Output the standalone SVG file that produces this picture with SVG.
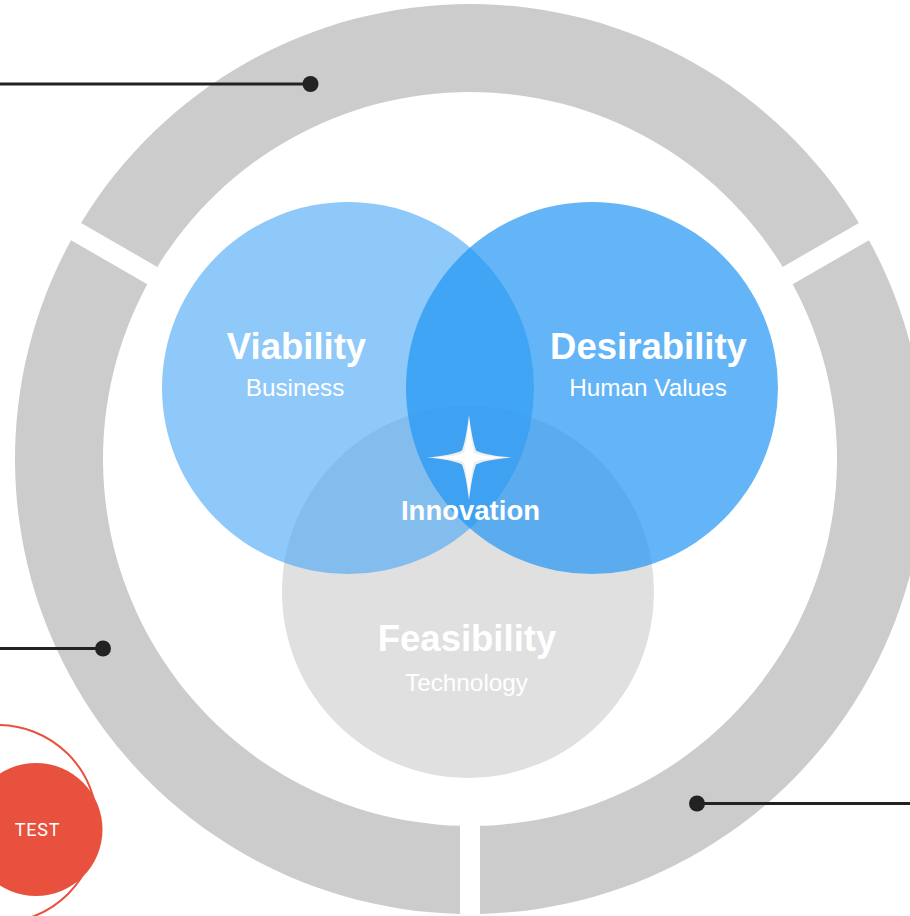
<svg xmlns="http://www.w3.org/2000/svg" width="910" height="916" viewBox="0 0 910 916">
<style>
.seg{fill:#CCCCCC}
.title{font-family:"Liberation Sans",Arial,sans-serif;font-weight:bold;font-size:36.5px;fill:#FFFFFF;text-anchor:middle}
.sub{font-family:"Liberation Sans",Arial,sans-serif;font-size:24.3px;fill:#FFFFFF;text-anchor:middle}
.conn{stroke:#222222;stroke-width:3;fill:none}
.dot{fill:#222222}
</style>
<rect width="910" height="916" fill="#FFFFFF"/>
<g id="ring">
<path class="seg" d="M81.06,222.89 A455,455 0 0 1 858.94,222.89 L782.71,266.91 A367,367 0 0 0 157.29,266.91 Z"/>
<path class="seg" d="M868.94,240.21 A455,455 0 0 1 480,913.89 L480,825.86 A367,367 0 0 0 792.71,284.23 Z"/>
<path class="seg" d="M460,913.89 A455,455 0 0 1 71.06,240.21 L147.29,284.23 A367,367 0 0 0 460,825.86 Z"/>
</g>
<g id="feasibility">
<circle cx="468" cy="592" r="186" fill="#E0E0E0"/>
</g>
<g id="viability">
<circle cx="348" cy="388" r="186" fill="#42A5F5" fill-opacity="0.6"/>
</g>
<g id="desirability">
<circle cx="592" cy="388" r="186" fill="#2196F3" fill-opacity="0.7"/>
</g>
<g id="labels">
<text class="title" x="296.5" y="359">Viability</text>
<text class="sub" x="295" y="395.5">Business</text>
<text class="title" x="648.5" y="359">Desirability</text>
<text class="sub" x="648" y="395.5">Human Values</text>
<text class="title" x="467" y="651">Feasibility</text>
<text class="sub" x="466.5" y="690.5">Technology</text>
</g>
<g id="innovation">
<path d="M469,415 Q472,440 476,450.5 Q486,455.5 512,457.5 Q486,459.5 476,464.5 Q472,475 469,500 Q466,475 462,464.5 Q452,459.5 427,457.5 Q452,455.5 462,450.5 Q466,440 469,415 Z" fill="#EEEEEE"/>
<path d="M469,421 Q471.5,443 474,453 Q483,456.5 506,457.5 Q483,458.5 474,462 Q471.5,472 469,494 Q466.5,472 464,462 Q455,458.5 433,457.5 Q455,456.5 464,453 Q466.5,443 469,421 Z" fill="#FFFFFF"/>
<text x="470.5" y="520" font-family="'Liberation Sans',Arial,sans-serif" font-weight="bold" font-size="27.5" fill="#FFFFFF" text-anchor="middle">Innovation</text>
</g>
<g id="connectors">
<line class="conn" x1="0" y1="84" x2="310" y2="84"/>
<circle class="dot" cx="310.5" cy="84" r="8"/>
<line class="conn" x1="0" y1="648.5" x2="103" y2="648.5"/>
<circle class="dot" cx="103" cy="648.5" r="8"/>
<line class="conn" x1="697" y1="803.5" x2="910" y2="803.5"/>
<circle class="dot" cx="697" cy="803.5" r="8"/>
</g>
<g id="test">
<circle cx="-2" cy="824" r="99" fill="none" stroke="#E9513F" stroke-width="2"/>
<circle cx="36" cy="829.5" r="66.5" fill="#E9513F"/>
<text x="37.5" y="836" font-family="Roboto,'Liberation Sans',sans-serif" font-size="18" letter-spacing="0.8" fill="#FFFFFF" text-anchor="middle">TEST</text>
</g>
</svg>
